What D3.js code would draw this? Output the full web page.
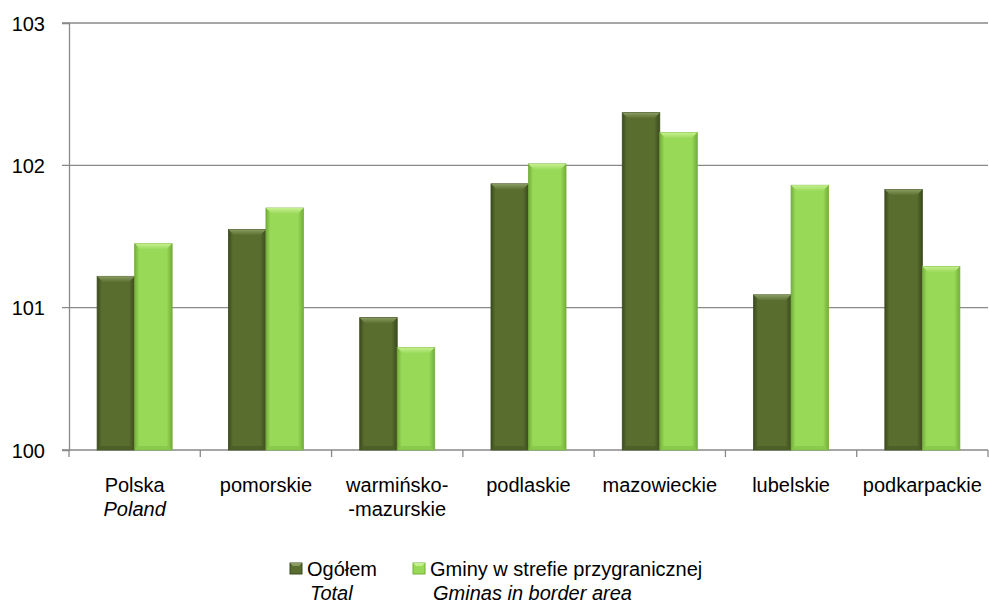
<!DOCTYPE html>
<html>
<head>
<meta charset="utf-8">
<script src="https://cdn.jsdelivr.net/npm/d3@7"></script>
<style>
  body { margin: 0; background: #fff; }
  svg { display: block; font-family: "Liberation Sans", Arial, sans-serif; }
  .cat { font-size: 20px; fill: #000; }
  .leg { font-size: 20px; fill: #000; }
</style>
</head>
<body>
<svg id="chart" width="989" height="604"></svg>
<script>
const categories = ["Polska|Poland", "pomorskie", "warmińsko-|-mazurskie", "podlaskie", "mazowieckie", "lubelskie", "podkarpackie"]
const totalValues = [101.22, 101.55, 100.93, 101.87, 102.37, 101.09, 101.83]
const borderValues = [101.45, 101.70, 100.72, 102.01, 102.23, 101.86, 101.29]
const yTicks = [100, 101, 102, 103]
const seriesNames = [["Ogółem", "Total"], ["Gminy w strefie przygranicznej", "Gminas in border area"]]

const svg = d3.select("#chart")
const M = { left: 69, right: 1, top: 23, bottom: 154 }
const W = 989, H = 604
const plotW = W - M.left - M.right, plotH = H - M.top - M.bottom

const x = d3.scaleBand().domain(categories).range([M.left, M.left + plotW]).paddingInner(0)
const x1 = d3.scaleBand().domain([0, 1]).range([0, x.bandwidth()]).paddingOuter(0.75).paddingInner(0)
const y = d3.scaleLinear().domain([100, 103]).range([M.top + plotH, M.top])

// gradients for the bevelled bars
const defs = svg.append("defs")
const palettes = [
  { edge: "#3b4b1d", mid: "#596d2f", top: "#8a9c62", base: "#4a5c25" },
  { edge: "#74ae3a", mid: "#98d958", top: "#c6f08f", base: "#86c54a" }
]
palettes.forEach((p, i) => {
  const g = defs.append("linearGradient").attr("id", "side" + i).attr("x1", 0).attr("x2", 1)
  g.append("stop").attr("offset", 0).attr("stop-color", p.edge)
  g.append("stop").attr("offset", 0.12).attr("stop-color", p.mid)
  g.append("stop").attr("offset", 0.85).attr("stop-color", p.mid)
  g.append("stop").attr("offset", 1).attr("stop-color", p.edge)
  const t = defs.append("linearGradient").attr("id", "top" + i).attr("x1", 0).attr("x2", 0).attr("y1", 0).attr("y2", 1)
  t.append("stop").attr("offset", 0).attr("stop-color", p.top)
  t.append("stop").attr("offset", 1).attr("stop-color", p.mid)
})

// gridlines
svg.append("g").selectAll("line").data(yTicks).enter().append("line")
  .attr("x1", M.left - 7).attr("x2", M.left + plotW)
  .attr("y1", (d) => y(d)).attr("y2", (d) => y(d))
  .attr("stroke", "#898989").attr("stroke-width", 1.3)

// y axis
const yAxis = svg.append("g").attr("transform", `translate(${M.left},0)`)
  .call(d3.axisLeft(y).tickValues(yTicks).tickSize(7).tickPadding(24).tickFormat(d3.format("d")))
yAxis.select(".domain").attr("stroke", "#898989").attr("stroke-width", 1.3)
yAxis.selectAll(".tick line").remove()
yAxis.selectAll(".tick text").attr("font-family", "Liberation Sans, Arial, sans-serif")
  .attr("font-size", 20).attr("fill", "#000").attr("dy", "0.35em").attr("x", -24)

// x axis ticks (category boundaries)
const bounds = categories.map((c) => x(c)).concat([M.left + plotW])
svg.append("g").selectAll("line").data(bounds).enter().append("line")
  .attr("x1", (d) => d).attr("x2", (d) => d)
  .attr("y1", y(100)).attr("y2", y(100) + 7)
  .attr("stroke", "#898989").attr("stroke-width", 1.3)

// bars
const rows = categories.map((c, i) => ({ c, v: [totalValues[i], borderValues[i]] }))
const group = svg.append("g").selectAll("g").data(rows).enter().append("g")
  .attr("transform", (d) => `translate(${x(d.c)},0)`)

group.each(function (d) {
  const g = d3.select(this)
  d.v.forEach((v, s) => {
    const bx = x1(s), bw = x1.bandwidth()
    const top = y(v), bottom = y(100)
    const b = 6
    g.append("rect").attr("x", bx).attr("y", top).attr("width", bw).attr("height", bottom - top)
      .attr("fill", `url(#side${s})`).attr("stroke", palettes[s].edge).attr("stroke-width", 0.8)
    // top bevel
    g.append("path")
      .attr("d", `M${bx},${top} L${bx + bw},${top} L${bx + bw - b},${top + b} L${bx + b},${top + b} Z`)
      .attr("fill", `url(#top${s})`)
    // bottom bevel
    g.append("path")
      .attr("d", `M${bx},${bottom} L${bx + bw},${bottom} L${bx + bw - 4},${bottom - 4} L${bx + 4},${bottom - 4} Z`)
      .attr("fill", palettes[s].base).attr("opacity", 0.8)
  })
})

// category labels
const labels = svg.append("g").selectAll("text").data(categories).enter().append("text")
  .attr("class", "cat").attr("text-anchor", "middle")
  .attr("x", (d) => x(d) + x.bandwidth() / 2).attr("y", 492)
labels.each(function (d) {
  const parts = d.split("|")
  const t = d3.select(this)
  parts.forEach((p, i) => {
    t.append("tspan").attr("x", x(d) + x.bandwidth() / 2).attr("dy", i ? 24 : 0)
      .attr("font-style", i && d.startsWith("Polska") ? "italic" : null).text(p)
  })
})

// legend
const legX = [290, 413]
const leg = svg.append("g").selectAll("g").data(seriesNames).enter().append("g")
  .attr("transform", (d, i) => `translate(${legX[i]},563)`)
leg.append("rect").attr("width", 12).attr("height", 11)
  .attr("fill", (d, i) => palettes[i].mid).attr("stroke", (d, i) => palettes[i].edge)
leg.append("path").attr("d", "M0,0 L12,0 L9,3 L3,3 Z").attr("fill", (d, i) => palettes[i].top)
leg.append("text").attr("class", "leg").attr("x", 17).attr("y", 13).text((d) => d[0])
leg.append("text").attr("class", "leg").attr("x", 20).attr("y", 37).attr("font-style", "italic").text((d) => d[1])
</script>
</body>
</html>
